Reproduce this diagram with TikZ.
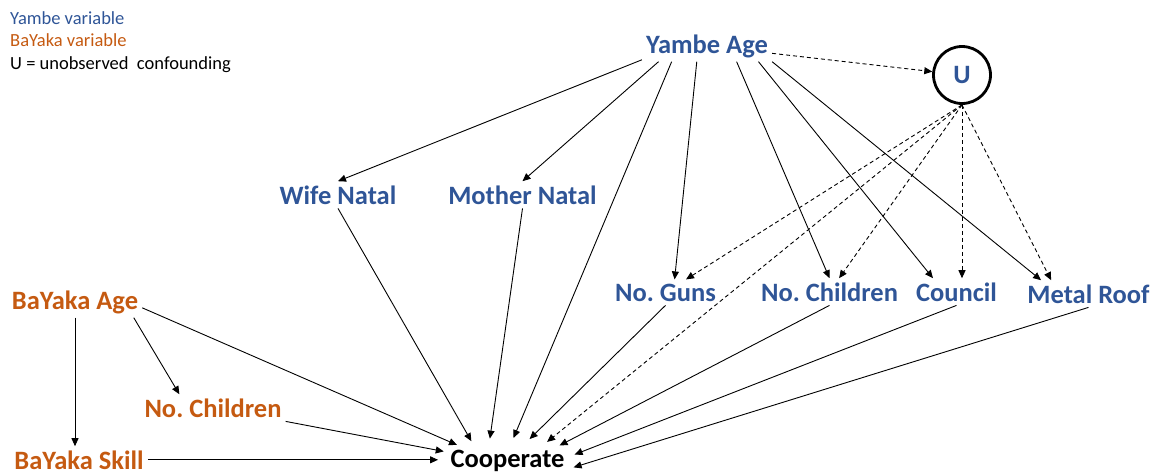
\documentclass[tikz,border=0pt]{standalone}
\usepackage{fontspec}
\setmainfont{Carlito}
\usepackage{xcolor}
\usetikzlibrary{arrows.meta,shapes.geometric}
\definecolor{yambeblue}{HTML}{2F5597}
\definecolor{bayakaorange}{HTML}{C55A11}
\frenchspacing

\begin{document}
\begin{tikzpicture}[x=1pt, y=-1pt,
    var/.style={font=\bfseries\fontsize{26.5}{30}\selectfont, inner sep=4pt, anchor=base},
    yvar/.style={var, text=yambeblue},
    bvar/.style={var, text=bayakaorange},
    legend/.style={font=\fontsize{18.5}{21}\selectfont, anchor=base west, inner sep=0pt},
    arr/.style={-{Triangle[length=8pt,width=7pt]}, line width=0.9pt},
    conf/.style={arr, dash pattern=on 4pt off 3pt}]
    \useasboundingbox (0,0) rectangle (1157,474);

    % legend
    \node[legend, text=yambeblue] (legy) at (10,24) {Yambe variable};
    \node[legend, text=bayakaorange] (legb) at (10,46.5) {BaYaka variable};
    \node[legend] (legu) at (10,69) {U = unobserved\ \ confounding};

    % Yambe variables
    \node[yvar] (yage) at (707,53) {Yambe Age};
    \node[yvar] (wnatal) at (338,204) {Wife Natal};
    \node[yvar] (mnatal) at (522.5,204) {Mother Natal};
    \node[yvar] (guns) at (665.5,301) {No. Guns};
    \node[yvar] (ychild) at (829.5,301) {No. Children};
    \node[yvar] (council) at (956.5,301) {Council};
    \node[yvar] (roof) at (1088.5,303) {Metal Roof};
    \node[draw, circle, line width=2.8pt, minimum size=57pt, inner sep=0pt, text=yambeblue,
          font=\bfseries\fontsize{26.5}{30}\selectfont] (U) at (962,75) {U};

    % BaYaka variables
    \node[bvar] (bage) at (75,309) {BaYaka Age};
    \node[bvar] (bchild) at (213,417) {No. Children};
    \node[bvar] (bskill) at (79,469) {BaYaka Skill};

    % outcome
    \node[var, shape=ellipse, inner xsep=-8pt, inner ysep=5pt] (coop) at (507.5,467) {Cooperate};

    % from Yambe Age
    \draw[arr] (yage.192) -- (wnatal.north);
    \draw[arr] (yage.198) -- (mnatal.north);
    \draw[arr] (yage.204) -- (coop.75);
    \draw[arr] (yage.237) -- (guns.55);
    \draw[arr] (yage.332) -- (ychild.north);
    \draw[arr] (yage.343) -- (council.150);
    \draw[arr] (yage.south east) -- (roof.164);
    \draw[conf] (yage) -- (U);

    % unobserved confounding
    \draw[conf] (U.south) -- (guns);
    \draw[conf] (U.south) -- (coop.25);
    \draw[conf] (U.south) -- (ychild);
    \draw[conf] (U.south) -- (U.south |- council.north);
    \draw[conf] (U.south) -- (roof.160);

    % into Cooperate
    \draw[arr] (wnatal.south) -- (coop.152);
    \draw[arr] (mnatal.south) -- (coop.129);
    \draw[arr] (guns.south) -- (coop.44);
    \draw[arr] (ychild.south) -- (coop.16);
    \draw[arr] (council.south) -- (coop.5);
    \draw[arr] (roof.south) -- (coop.354);

    % BaYaka side
    \draw[arr] (bage.south) -- (bage.south |- bskill.north);
    \draw[arr] (bage.345) -- (bchild.158);
    \draw[arr] (bage.355) -- (coop.163);
    \draw[arr] (bchild.south east) -- (coop.172);
    \draw[arr] (bskill.east) -- (bskill.east -| coop.west);
\end{tikzpicture}
\end{document}
